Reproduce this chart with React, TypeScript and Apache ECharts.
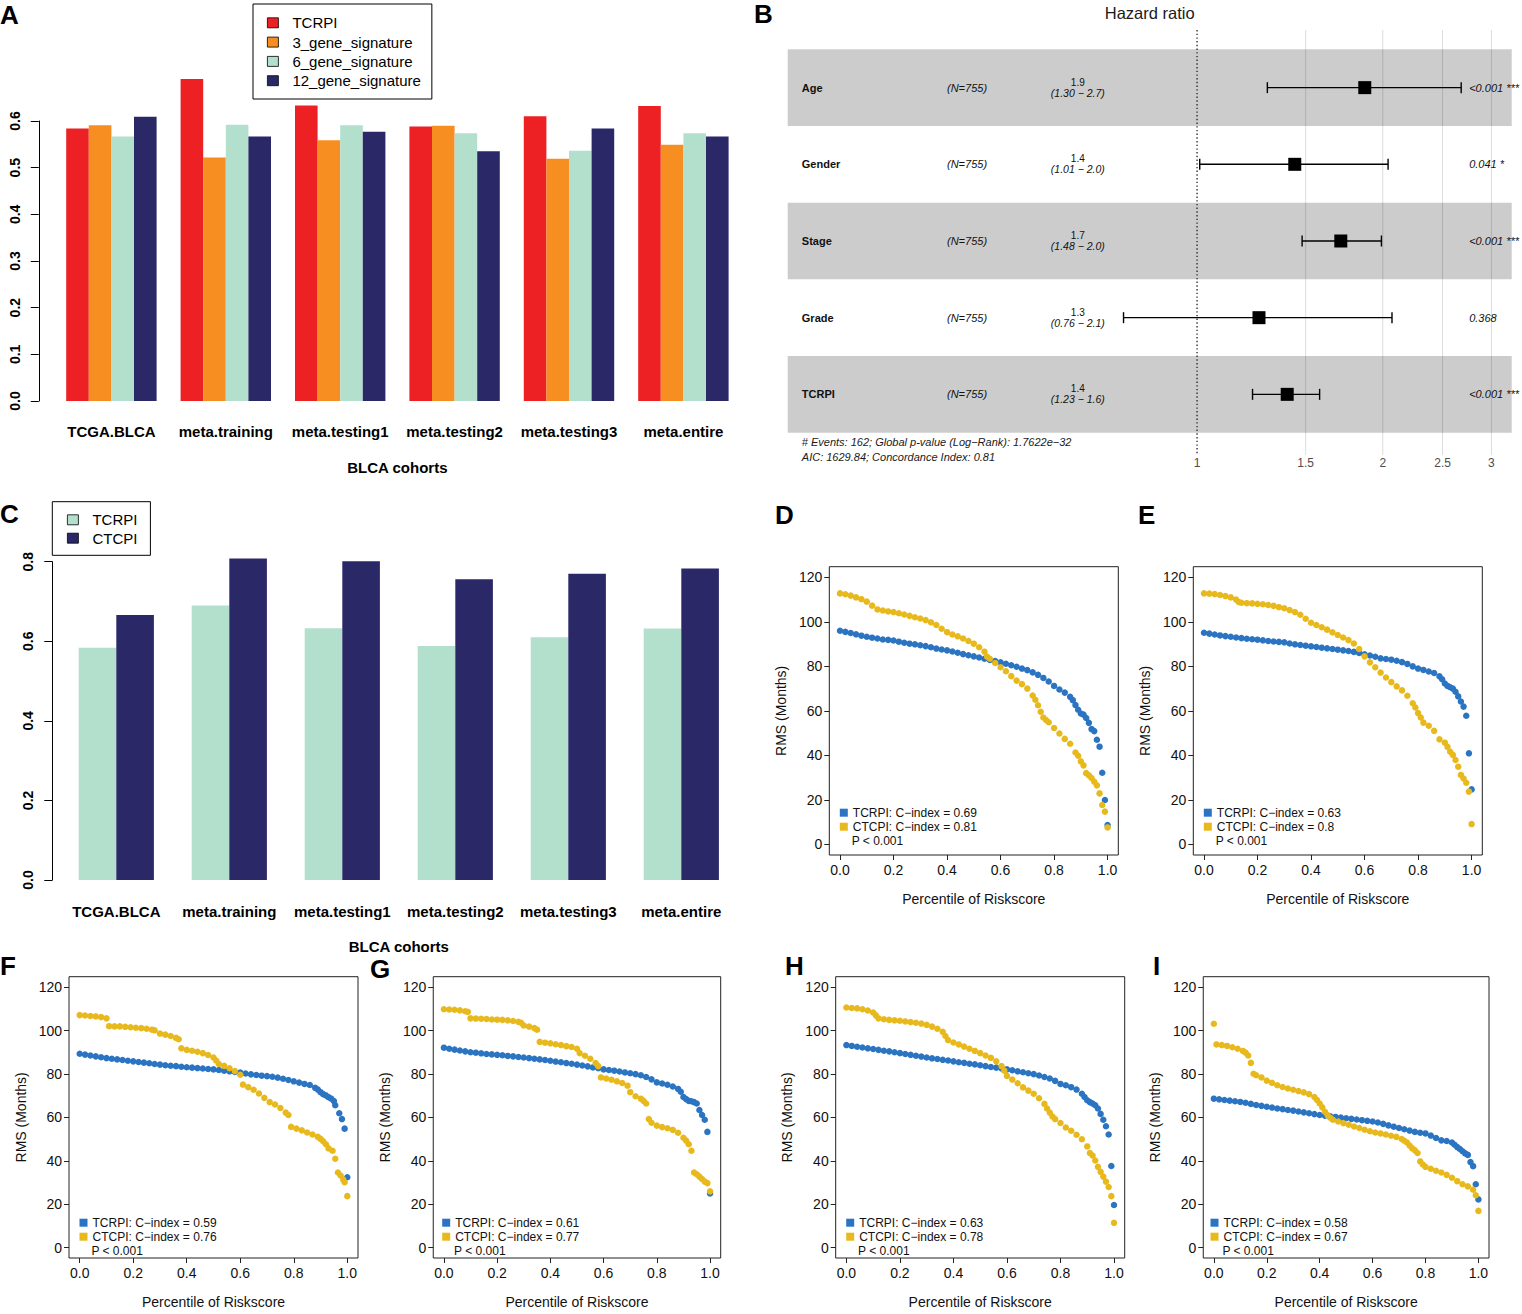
import React, { useEffect, useRef } from "react";
import * as echarts from "echarts";

const FONT = "'Liberation Sans', Arial, Helvetica, sans-serif";

// ---------------- Panels A & C: C-index per cohort ----------------
const cohorts = ["TCGA.BLCA", "meta.training", "meta.testing1", "meta.testing2", "meta.testing3", "meta.entire"];
const tcrpiCindex = [0.584, 0.69, 0.633, 0.588, 0.61, 0.632];
const gene3Cindex = [0.591, 0.522, 0.559, 0.59, 0.519, 0.549];
const gene6Cindex = [0.567, 0.592, 0.591, 0.574, 0.536, 0.574];
const gene12Cindex = [0.609, 0.567, 0.577, 0.535, 0.584, 0.567];
const ctcpiCindex = [0.666, 0.808, 0.801, 0.756, 0.77, 0.783];
const signatureNames = ["TCRPI", "3_gene_signature", "6_gene_signature", "12_gene_signature"];

// ---------------- Panel B: multivariate Cox (forest) ----------------
const forestVars = ["Age", "Gender", "Stage", "Grade", "TCRPI"];
const forestN = [755, 755, 755, 755, 755];
const forestHR = [1.87, 1.44, 1.71, 1.26, 1.4];
const forestLow = [1.3, 1.01, 1.48, 0.76, 1.23];
const forestHigh = [2.68, 2.04, 1.99, 2.07, 1.58];
const forestP = ["<0.001 ***", "0.041 *", "<0.001 ***", "0.368", "<0.001 ***"];
const hrTicks = [1, 1.5, 2, 2.5, 3];
const refHR = 1;
const hrRange = [0.217, 3.236];
const forestFooter = [
  "# Events: 162; Global p-value (Log\u2212Rank): 1.7622e\u221232",
  "AIC: 1629.84; Concordance Index: 0.81",
];

// ---------------- Panels D-I: RMS vs percentile of riskscore ----------------
const rmsTrainingTCRPI = [[0,96.0],[0.02,95.5],[0.04,95.0],[0.06,94.4],[0.08,93.8],[0.10,93.3],[0.12,92.9],[0.14,92.5],[0.16,92.1],[0.18,91.9],[0.20,91.6],[0.22,91.1],[0.24,90.6],[0.26,90.2],[0.28,89.9],[0.30,89.5],[0.32,89.1],[0.34,88.6],[0.36,88.0],[0.38,87.6],[0.40,87.2],[0.42,86.7],[0.44,86.1],[0.46,85.5],[0.48,85.0],[0.50,84.5],[0.52,84.0],[0.54,83.4],[0.56,82.9],[0.58,82.4],[0.60,81.8],[0.62,81.2],[0.64,80.5],[0.66,79.8],[0.68,79.0],[0.70,78.3],[0.72,77.3],[0.74,76.2],[0.76,74.8],[0.78,73.2],[0.80,71.2],[0.82,69.6],[0.84,68.2],[0.86,66.3],[0.87,64.8],[0.88,62.6],[0.89,60.5],[0.90,58.8],[0.91,58.3],[0.92,56.8],[0.93,54.6],[0.94,51.8],[0.95,50.9],[0.96,47.0],[0.97,43.9],[0.98,32.2],[0.99,19.9],[1.0,8.7]];
const rmsTrainingCTCPI = [[0,112.8],[0.02,112.4],[0.04,111.8],[0.06,111.0],[0.08,110.2],[0.10,109.1],[0.12,107.3],[0.14,105.6],[0.16,105.1],[0.18,104.7],[0.20,104.4],[0.22,103.9],[0.24,103.3],[0.26,102.7],[0.28,102.1],[0.30,101.5],[0.32,100.8],[0.34,99.8],[0.36,98.6],[0.38,96.9],[0.40,95.4],[0.42,94.3],[0.44,93.5],[0.46,92.5],[0.48,91.4],[0.50,90.2],[0.52,88.6],[0.54,86.6],[0.55,84.3],[0.56,83.4],[0.58,81.5],[0.60,79.6],[0.62,77.8],[0.64,75.6],[0.66,73.6],[0.68,72.0],[0.70,70.0],[0.72,66.9],[0.73,65.0],[0.74,62.5],[0.75,59.6],[0.76,57.0],[0.77,55.9],[0.78,54.9],[0.80,52.3],[0.82,49.8],[0.84,47.4],[0.86,45.2],[0.88,41.3],[0.89,39.8],[0.90,37.3],[0.91,35.5],[0.92,32.0],[0.93,31.0],[0.94,29.8],[0.95,28.2],[0.96,26.5],[0.97,22.9],[0.98,17.7],[0.99,14.7],[1.0,7.6]];

const rmsTesting1TCRPI = [[0,95.1],[0.02,94.7],[0.04,94.3],[0.06,93.9],[0.08,93.6],[0.10,93.3],[0.12,93.0],[0.14,92.7],[0.16,92.4],[0.18,92.2],[0.20,92.0],[0.22,91.7],[0.24,91.4],[0.26,91.2],[0.28,91.0],[0.30,90.8],[0.32,90.3],[0.34,89.9],[0.36,89.6],[0.38,89.3],[0.40,89.0],[0.42,88.7],[0.44,88.4],[0.46,88.1],[0.48,87.8],[0.50,87.5],[0.52,87.2],[0.54,86.9],[0.56,86.5],[0.58,86.0],[0.60,85.4],[0.62,84.9],[0.64,84.3],[0.66,83.6],[0.68,83.3],[0.70,83.0],[0.72,82.5],[0.74,81.9],[0.76,81.1],[0.78,80.0],[0.80,79.0],[0.82,78.4],[0.84,77.7],[0.86,77.0],[0.88,75.5],[0.89,74.2],[0.90,72.3],[0.91,71.2],[0.92,70.6],[0.93,70.0],[0.94,68.6],[0.95,66.5],[0.96,64.2],[0.97,61.9],[0.98,57.8],[0.99,40.9],[1.0,24.7]];
const rmsTesting1CTCPI = [[0,112.8],[0.02,112.7],[0.04,112.5],[0.06,112.1],[0.08,111.6],[0.10,111.0],[0.12,110.0],[0.13,108.9],[0.14,108.6],[0.16,108.4],[0.18,108.3],[0.20,108.1],[0.22,107.9],[0.24,107.6],[0.26,107.2],[0.28,106.6],[0.30,106.1],[0.32,105.3],[0.34,104.4],[0.36,103.2],[0.38,101.4],[0.40,99.6],[0.42,98.6],[0.44,97.6],[0.46,96.5],[0.48,95.3],[0.50,94.1],[0.52,93.0],[0.54,91.8],[0.56,90.3],[0.58,87.8],[0.60,84.5],[0.62,81.8],[0.64,79.6],[0.66,77.2],[0.68,75.0],[0.70,72.9],[0.72,71.0],[0.74,69.2],[0.76,66.8],[0.78,63.4],[0.79,61.5],[0.80,59.0],[0.81,57.0],[0.82,54.7],[0.84,53.3],[0.86,51.0],[0.88,47.2],[0.90,45.7],[0.91,43.8],[0.92,41.6],[0.93,40.2],[0.94,37.9],[0.95,34.9],[0.96,31.2],[0.97,29.6],[0.98,27.7],[0.99,23.7],[1.0,9.1]];

const rmsTesting2TCRPI = [[0,89.3],[0.02,88.9],[0.04,88.5],[0.06,88.1],[0.08,87.7],[0.10,87.3],[0.12,87.0],[0.14,86.7],[0.16,86.4],[0.18,86.1],[0.20,85.8],[0.22,85.5],[0.24,85.2],[0.26,84.9],[0.28,84.6],[0.30,84.3],[0.32,84.0],[0.34,83.8],[0.36,83.6],[0.38,83.3],[0.40,83.1],[0.42,82.9],[0.44,82.7],[0.46,82.5],[0.48,82.3],[0.50,82.1],[0.52,81.8],[0.54,81.5],[0.56,81.2],[0.58,80.9],[0.60,80.6],[0.62,80.2],[0.64,79.8],[0.66,79.5],[0.68,79.2],[0.70,79.0],[0.72,78.7],[0.74,78.3],[0.76,77.8],[0.78,77.2],[0.80,76.6],[0.82,76.0],[0.84,75.4],[0.86,74.9],[0.88,73.6],[0.89,72.8],[0.90,71.6],[0.91,70.7],[0.92,70.1],[0.93,69.3],[0.94,68.6],[0.95,67.5],[0.955,65.6],[0.97,61.9],[0.98,59.2],[0.99,54.8],[1.0,32.4]];
const rmsTesting2CTCPI = [[0,107.1],[0.02,106.9],[0.04,106.7],[0.06,106.5],[0.08,106.2],[0.10,105.6],[0.11,102.0],[0.13,101.9],[0.15,101.9],[0.17,101.7],[0.19,101.5],[0.21,101.3],[0.23,101.1],[0.25,100.8],[0.27,100.4],[0.28,100.1],[0.30,98.6],[0.32,98.1],[0.34,97.5],[0.36,96.6],[0.37,96.0],[0.38,91.8],[0.40,91.1],[0.42,90.7],[0.44,90.2],[0.46,89.6],[0.48,88.7],[0.50,87.6],[0.51,86.2],[0.52,84.6],[0.54,83.7],[0.56,82.6],[0.58,81.3],[0.60,79.6],[0.61,75.1],[0.63,73.9],[0.65,72.7],[0.67,71.0],[0.69,69.0],[0.71,67.0],[0.73,65.9],[0.75,64.3],[0.77,62.2],[0.78,61.1],[0.79,55.6],[0.81,54.8],[0.83,54.0],[0.85,53.0],[0.87,52.1],[0.89,51.0],[0.90,50.1],[0.91,49.0],[0.92,47.6],[0.93,45.7],[0.945,44.6],[0.955,40.9],[0.965,34.6],[0.975,33.2],[0.985,31.3],[0.99,30.1],[1.0,23.7]];

const rmsTesting3TCRPI = [[0,92.1],[0.02,91.6],[0.04,91.2],[0.06,90.8],[0.08,90.4],[0.10,90.0],[0.12,89.8],[0.14,89.5],[0.16,89.2],[0.18,89.0],[0.20,88.8],[0.22,88.6],[0.24,88.3],[0.26,88.1],[0.28,87.8],[0.30,87.6],[0.32,87.3],[0.34,87.0],[0.36,86.7],[0.38,86.4],[0.40,86.1],[0.42,85.7],[0.44,85.4],[0.46,85.0],[0.48,84.7],[0.50,84.3],[0.52,83.9],[0.54,83.5],[0.56,83.0],[0.58,82.6],[0.60,82.1],[0.62,81.8],[0.64,81.5],[0.66,81.1],[0.68,80.7],[0.70,80.3],[0.72,79.9],[0.74,79.4],[0.76,78.6],[0.78,77.5],[0.80,76.1],[0.82,75.6],[0.84,75.0],[0.86,74.2],[0.88,73.1],[0.89,71.8],[0.90,69.4],[0.91,68.4],[0.92,67.6],[0.93,67.4],[0.94,67.0],[0.95,66.4],[0.96,63.4],[0.97,61.1],[0.98,58.9],[0.99,53.3],[1.0,24.9]];
const rmsTesting3CTCPI = [[0,109.8],[0.02,109.7],[0.04,109.6],[0.06,109.3],[0.08,108.9],[0.09,108.6],[0.10,105.6],[0.12,105.5],[0.14,105.4],[0.16,105.3],[0.18,105.1],[0.20,105.0],[0.22,104.9],[0.24,104.7],[0.26,104.4],[0.28,104.0],[0.29,103.6],[0.30,102.3],[0.32,101.8],[0.34,101.1],[0.35,100.4],[0.36,94.8],[0.38,94.4],[0.40,94.1],[0.42,93.7],[0.44,93.3],[0.46,92.8],[0.48,92.4],[0.50,91.6],[0.51,89.6],[0.53,88.4],[0.55,87.0],[0.57,85.0],[0.58,83.6],[0.59,78.4],[0.61,77.9],[0.63,77.3],[0.65,76.6],[0.67,75.8],[0.69,74.6],[0.70,71.6],[0.72,69.7],[0.74,68.6],[0.75,67.6],[0.76,66.4],[0.77,59.2],[0.78,57.5],[0.80,56.2],[0.82,55.5],[0.84,55.0],[0.86,54.2],[0.88,52.9],[0.90,50.6],[0.91,49.3],[0.92,47.6],[0.93,44.6],[0.94,34.6],[0.95,33.8],[0.96,32.7],[0.97,31.6],[0.98,30.4],[0.99,29.7],[1.0,25.9]];

const rmsEntireTCRPI = [[0,93.3],[0.02,92.9],[0.04,92.5],[0.06,92.2],[0.08,91.8],[0.10,91.5],[0.12,91.1],[0.14,90.7],[0.16,90.4],[0.18,90.0],[0.20,89.6],[0.22,89.2],[0.24,88.8],[0.26,88.4],[0.28,88.0],[0.30,87.6],[0.32,87.2],[0.34,86.9],[0.36,86.5],[0.38,86.2],[0.40,85.8],[0.42,85.4],[0.44,85.1],[0.46,84.7],[0.48,84.4],[0.50,84.0],[0.52,83.6],[0.54,83.2],[0.56,82.9],[0.58,82.5],[0.60,82.1],[0.62,81.7],[0.64,81.2],[0.66,80.8],[0.68,80.3],[0.70,79.9],[0.72,79.3],[0.74,78.6],[0.76,77.9],[0.78,76.8],[0.80,75.4],[0.82,74.8],[0.84,73.9],[0.86,72.8],[0.88,70.9],[0.89,69.4],[0.90,67.9],[0.91,67.0],[0.92,66.4],[0.93,65.6],[0.94,64.1],[0.95,61.6],[0.96,58.9],[0.97,55.9],[0.98,52.1],[0.99,37.6],[1.0,19.6]];
const rmsEntireCTCPI = [[0,110.6],[0.02,110.4],[0.04,110.2],[0.06,109.8],[0.08,109.2],[0.10,108.3],[0.11,107.0],[0.12,105.6],[0.14,105.2],[0.16,104.9],[0.18,104.7],[0.20,104.5],[0.22,104.2],[0.24,103.9],[0.26,103.6],[0.28,103.2],[0.30,102.6],[0.32,101.8],[0.34,100.8],[0.36,99.4],[0.37,97.5],[0.38,95.6],[0.40,94.5],[0.42,93.6],[0.44,92.6],[0.46,91.6],[0.48,90.6],[0.50,89.6],[0.52,88.5],[0.54,87.4],[0.56,85.8],[0.58,83.6],[0.59,81.5],[0.60,79.1],[0.62,77.4],[0.64,75.7],[0.66,73.8],[0.68,72.3],[0.70,70.9],[0.72,68.8],[0.74,66.2],[0.75,64.1],[0.76,62.2],[0.77,60.4],[0.78,59.2],[0.80,57.4],[0.82,55.3],[0.84,53.8],[0.86,52.0],[0.88,49.9],[0.90,46.6],[0.91,43.6],[0.92,42.4],[0.93,40.1],[0.94,37.2],[0.95,34.9],[0.96,32.7],[0.97,30.4],[0.98,27.9],[0.99,23.7],[1.0,11.4]];

const rmsTcgaTCRPI = [[0,68.6],[0.02,68.3],[0.04,68.0],[0.06,67.7],[0.08,67.4],[0.10,67.1],[0.12,66.7],[0.14,66.2],[0.16,65.7],[0.18,65.3],[0.20,64.9],[0.22,64.5],[0.24,64.1],[0.26,63.8],[0.28,63.4],[0.30,63.1],[0.32,62.7],[0.34,62.3],[0.36,61.9],[0.38,61.5],[0.40,61.1],[0.42,60.8],[0.44,60.5],[0.46,60.2],[0.48,59.9],[0.50,59.6],[0.52,59.3],[0.54,59.0],[0.56,58.7],[0.58,58.4],[0.60,58.1],[0.62,57.6],[0.64,57.0],[0.66,56.3],[0.68,55.7],[0.70,55.1],[0.72,54.5],[0.74,53.9],[0.76,53.3],[0.78,52.9],[0.80,52.6],[0.82,51.6],[0.84,50.5],[0.86,49.4],[0.88,49.1],[0.90,48.4],[0.91,47.4],[0.92,46.3],[0.93,45.4],[0.94,44.4],[0.95,43.4],[0.96,42.7],[0.97,39.4],[0.98,37.5],[0.99,29.2],[1.0,22.2]];
const rmsTcgaCTCPI = [[0,103.1],[0.01,93.6],[0.03,93.3],[0.05,92.9],[0.07,92.3],[0.09,91.6],[0.11,90.6],[0.12,89.8],[0.13,88.5],[0.14,85.1],[0.15,80.1],[0.16,79.4],[0.18,78.4],[0.20,76.9],[0.22,75.9],[0.24,74.8],[0.26,74.0],[0.28,73.3],[0.30,72.7],[0.32,72.1],[0.34,71.5],[0.36,70.7],[0.38,69.4],[0.39,68.0],[0.40,66.4],[0.41,64.6],[0.42,62.6],[0.43,61.0],[0.44,59.8],[0.45,58.9],[0.47,58.1],[0.49,57.3],[0.51,56.6],[0.53,55.8],[0.55,55.1],[0.57,54.3],[0.59,53.6],[0.61,53.0],[0.63,52.6],[0.65,52.1],[0.67,51.5],[0.69,51.0],[0.71,50.0],[0.72,49.2],[0.73,48.4],[0.74,47.0],[0.75,45.7],[0.76,44.8],[0.77,43.6],[0.78,39.7],[0.79,38.3],[0.80,37.2],[0.82,36.3],[0.84,35.4],[0.86,34.6],[0.88,33.5],[0.90,32.2],[0.92,30.6],[0.94,29.2],[0.96,28.2],[0.98,26.7],[0.99,24.1],[1.0,16.9]];

const pctTicks = [0, 0.2, 0.4, 0.6, 0.8, 1.0];
const rmsTicks = [0, 20, 40, 60, 80, 100, 120];
const rmsPLabel = "P < 0.001";

// ---------------- styling ----------------
const BAR_COLORS = ["#ed2024", "#f68e21", "#b3dfcd", "#2b2868"];
const BLUE = "#2a74c2";
const YELLOW = "#e8b91d";

const fmtC = (v: number) => String(Math.round(v * 100) / 100);

function panelLetter(t: string, x: number, y: number) {
  return {
    type: "text",
    x,
    y,
    style: {
      text: t,
      fill: "#000",
      font: `bold 26px ${FONT}`,
      align: "left",
      verticalAlign: "middle",
      textAlign: "left",
      textVerticalAlign: "middle",
    },
  };
}

function plainText(t: string, x: number, y: number, font: string, fill = "#000", align = "left") {
  return {
    type: "text",
    x,
    y,
    style: { text: t, fill, font, align, verticalAlign: "middle", textAlign: align, textVerticalAlign: "middle" },
  };
}

// ---------------- Panel A ----------------
const optionA = {
  animation: false,
  textStyle: { fontFamily: FONT },
  grid: { left: 54.2, top: 121, width: 686.4, height: 280 },
  xAxis: {
    type: "category",
    data: cohorts,
    axisLine: { show: false },
    axisTick: { show: false },
    axisLabel: { interval: 0, fontSize: 15, fontWeight: "bold", color: "#000", margin: 23, fontFamily: FONT },
    name: "BLCA cohorts",
    nameLocation: "middle",
    nameGap: 59,
    nameTextStyle: { fontSize: 15, fontWeight: "bold", color: "#000", fontFamily: FONT },
  },
  yAxis: {
    type: "value",
    min: 0,
    max: 0.6,
    interval: 0.1,
    offset: 15.4,
    axisLine: { show: true, lineStyle: { color: "#000", width: 1 } },
    axisTick: { show: true, length: 8, lineStyle: { color: "#000" } },
    axisLabel: { rotate: 90, fontSize: 14, fontWeight: "bold", color: "#000", margin: 17, formatter: (v: number) => v.toFixed(1) },
    splitLine: { show: false },
  },
  legend: {
    orient: "vertical",
    left: 253,
    top: 4,
    padding: [11.3, 11, 10.8, 14],
    borderColor: "#000",
    borderWidth: 1,
    itemWidth: 11,
    itemHeight: 10,
    itemGap: 4.3,
    icon: "rect",
    selectedMode: false,
    itemStyle: { borderColor: "#000", borderWidth: 0.8 },
    textStyle: { fontSize: 15, lineHeight: 14, color: "#000", fontFamily: FONT, padding: [0, 0, 0, 9] },
    data: signatureNames,
  },
  graphic: [panelLetter("A", 0, 14.5)],
  series: [tcrpiCindex, gene3Cindex, gene6Cindex, gene12Cindex].map((d, i) => ({
    type: "bar",
    name: signatureNames[i],
    data: d,
    barWidth: 22.6,
    barGap: "0%",
    clip: false,
    itemStyle: { color: BAR_COLORS[i] },
  })),
};

// ---------------- Panel C ----------------
const optionC = {
  animation: false,
  textStyle: { fontFamily: FONT },
  grid: { left: 59.8, top: 71.7, width: 678, height: 318.3 },
  xAxis: {
    type: "category",
    data: cohorts,
    axisLine: { show: false },
    axisTick: { show: false },
    axisLabel: { interval: 0, fontSize: 15, fontWeight: "bold", color: "#000", margin: 24, fontFamily: FONT },
    name: "BLCA cohorts",
    nameLocation: "middle",
    nameGap: 59,
    nameTextStyle: { fontSize: 15, fontWeight: "bold", color: "#000", fontFamily: FONT },
  },
  yAxis: {
    type: "value",
    min: 0,
    max: 0.8,
    interval: 0.2,
    offset: 7.5,
    axisLine: { show: true, lineStyle: { color: "#000", width: 1 } },
    axisTick: { show: true, length: 8, lineStyle: { color: "#000" } },
    axisLabel: { rotate: 90, fontSize: 14, fontWeight: "bold", color: "#000", margin: 17, formatter: (v: number) => v.toFixed(1) },
    splitLine: { show: false },
  },
  legend: {
    orient: "vertical",
    left: 52.3,
    top: 11.7,
    padding: [10.6, 13, 9.6, 14.7],
    borderColor: "#000",
    borderWidth: 1,
    itemWidth: 11,
    itemHeight: 10,
    itemGap: 3.4,
    icon: "rect",
    selectedMode: false,
    itemStyle: { borderColor: "#000", borderWidth: 0.8 },
    textStyle: { fontSize: 15, lineHeight: 14, color: "#000", fontFamily: FONT, padding: [0, 0, 0, 9] },
    data: ["TCRPI", "CTCPI"],
  },
  graphic: [panelLetter("C", 0, 23.5)],
  series: [
    { type: "bar", name: "TCRPI", data: tcrpiCindex, barWidth: 37.6, barGap: "0%", clip: false, itemStyle: { color: BAR_COLORS[2] } },
    { type: "bar", name: "CTCPI", data: ctcpiCindex, barWidth: 37.6, barGap: "0%", clip: false, itemStyle: { color: BAR_COLORS[3] } },
  ],
};

// ---------------- Panel B (forest) ----------------
const forestOption = {
  animation: false,
  textStyle: { fontFamily: FONT },
  grid: { left: 37.7, top: 30, width: 724, height: 425 },
  xAxis: { type: "value", min: Math.log(hrRange[0]), max: Math.log(hrRange[1]), show: false },
  yAxis: { type: "value", inverse: true, min: -0.2517, max: 5.291, show: false },
  graphic: [
    panelLetter("B", 4, 13.5),
    plainText("Hazard ratio", 399.7, 12.7, `16.5px ${FONT}`, "#1a1a1a", "center"),
    plainText(forestFooter[0], 51.8, 442, `italic 11px ${FONT}`, "#1a1a1a"),
    plainText(forestFooter[1], 51.8, 456.7, `italic 11px ${FONT}`, "#1a1a1a"),
  ],
  series: [
    {
      type: "custom",
      name: "bands",
      z: 1,
      data: forestVars.map((_, i) => [0, i]),
      encode: { x: 0, y: 1 },
      renderItem: (params: any, api: any) => {
        const i = api.value(1);
        const cs = params.coordSys;
        if (i % 2 !== 0) return { type: "group", children: [] };
        const y0 = api.coord([0, i])[1];
        const y1 = api.coord([0, i + 1])[1];
        return { type: "rect", shape: { x: cs.x, y: y0, width: cs.width, height: y1 - y0 }, style: { fill: "#cccccc" } };
      },
    },
    {
      type: "custom",
      name: "hrTicks",
      z: 2,
      data: hrTicks.map((v) => [Math.log(v), 0]),
      encode: { x: 0, y: 1 },
      renderItem: (params: any, api: any) => {
        const v = hrTicks[params.dataIndex];
        const cs = params.coordSys;
        const x = api.coord([api.value(0), 0])[0];
        const isRef = v === refHR;
        return {
          type: "group",
          children: [
            {
              type: "line",
              shape: { x1: x, y1: cs.y, x2: x, y2: cs.y + cs.height },
              style: isRef
                ? { stroke: "#222", lineWidth: 1.3, lineDash: [1.4, 2.3] }
                : { stroke: "rgba(0,0,0,0.16)", lineWidth: 0.9 },
            },
            {
              type: "text",
              x,
              y: cs.y + cs.height + 8.3,
              style: {
                text: String(v),
                fill: "#4d4d4d",
                font: `12px ${FONT}`,
                align: "center",
                verticalAlign: "middle",
                textAlign: "center",
                textVerticalAlign: "middle",
              },
            },
          ],
        };
      },
    },
    {
      type: "custom",
      name: "forest",
      z: 3,
      data: forestVars.map((_, i) => [Math.log(forestHR[i]), i, Math.log(forestLow[i]), Math.log(forestHigh[i])]),
      encode: { x: [0, 2, 3], y: 1 },
      renderItem: (params: any, api: any) => {
        const i = params.dataIndex;
        const cs = params.coordSys;
        const yc = api.coord([0, i + 0.5])[1];
        const xc = api.coord([api.value(0), 0])[0];
        const xl = api.coord([api.value(2), 0])[0];
        const xh = api.coord([api.value(3), 0])[0];
        const t = (text: string, x: number, y: number, font: string, align = "left") => ({
          type: "text",
          x,
          y,
          style: { text, fill: "#111", font, align, verticalAlign: "middle", textAlign: align, textVerticalAlign: "middle" },
        });
        const ln = { stroke: "#000", lineWidth: 1.4 };
        return {
          type: "group",
          children: [
            { type: "line", shape: { x1: xl, y1: yc, x2: xh, y2: yc }, style: ln },
            { type: "line", shape: { x1: xl, y1: yc - 5.5, x2: xl, y2: yc + 5.5 }, style: ln },
            { type: "line", shape: { x1: xh, y1: yc - 5.5, x2: xh, y2: yc + 5.5 }, style: ln },
            { type: "rect", shape: { x: xc - 6.5, y: yc - 6.5, width: 13, height: 13 }, style: { fill: "#000" } },
            t(forestVars[i], cs.x + 14.1, yc, `bold 11px ${FONT}`),
            t(`(N=${forestN[i]})`, cs.x + 159.3, yc, `italic 11px ${FONT}`),
            t(forestHR[i].toFixed(1), cs.x + 290.1, yc - 5.6, `10px ${FONT}`, "center"),
            t(`(${forestLow[i].toFixed(2)} \u2212 ${forestHigh[i].toFixed(1)})`, cs.x + 290.1, yc + 5.0, `italic 10.5px ${FONT}`, "center"),
            t(forestP[i], cs.x + 681.5, yc, `italic 11px ${FONT}`),
          ],
        };
      },
    },
  ],
};

// ---------------- Panels D-I ----------------
type RmsPanel = {
  letter: string;
  cohort: number;
  tcrpi: number[][];
  ctcpi: number[][];
  left: number;
  top: number;
  w: number;
  h: number;
  gl: number;
  gt: number;
  lx: number;
  ly: number;
};

const rmsPanels: RmsPanel[] = [
  { letter: "D", cohort: 1, tcrpi: rmsTrainingTCRPI, ctcpi: rmsTrainingCTCPI, left: 760, top: 490, w: 380, h: 440, gl: 69.3, gt: 76.7, lx: 15, ly: 24.5 },
  { letter: "E", cohort: 2, tcrpi: rmsTesting1TCRPI, ctcpi: rmsTesting1CTCPI, left: 1130, top: 490, w: 392, h: 440, gl: 63.3, gt: 76.7, lx: 8, ly: 24.5 },
  { letter: "F", cohort: 3, tcrpi: rmsTesting2TCRPI, ctcpi: rmsTesting2CTCPI, left: 0, top: 940, w: 370, h: 374, gl: 69, gt: 36.7, lx: 0, ly: 25.5 },
  { letter: "G", cohort: 4, tcrpi: rmsTesting3TCRPI, ctcpi: rmsTesting3CTCPI, left: 370, top: 940, w: 400, h: 374, gl: 61.7, gt: 36.7, lx: 0, ly: 29 },
  { letter: "H", cohort: 5, tcrpi: rmsEntireTCRPI, ctcpi: rmsEntireCTCPI, left: 770, top: 940, w: 370, h: 374, gl: 65.7, gt: 36.7, lx: 15, ly: 25.5 },
  { letter: "I", cohort: 0, tcrpi: rmsTcgaTCRPI, ctcpi: rmsTcgaCTCPI, left: 1140, top: 940, w: 382, h: 374, gl: 60, gt: 36.7, lx: 13, ly: 25.5 },
];

function rmsOption(p: RmsPanel) {
  const cidx: Record<string, number> = { TCRPI: tcrpiCindex[p.cohort], CTCPI: ctcpiCindex[p.cohort] };
  return {
    animation: false,
    textStyle: { fontFamily: FONT },
    grid: { left: p.gl, top: p.gt, width: 289, height: 288.3, show: true, borderColor: "#222", borderWidth: 1, backgroundColor: "transparent" },
    xAxis: {
      type: "value",
      min: -0.04,
      max: 1.04,
      axisLine: { show: false, onZero: false },
      splitLine: { show: false },
      axisTick: { show: true, inside: false, length: 5, customValues: pctTicks, lineStyle: { color: "#222" } },
      axisLabel: { customValues: pctTicks, formatter: (v: number) => v.toFixed(1), fontSize: 14, color: "#111", margin: 8 },
      name: "Percentile of Riskscore",
      nameLocation: "middle",
      nameGap: 37,
      nameTextStyle: { fontSize: 14, color: "#111", fontFamily: FONT },
    },
    yAxis: {
      type: "value",
      min: -4.8,
      max: 124.8,
      axisLine: { show: false, onZero: false },
      splitLine: { show: false },
      axisTick: { show: true, inside: false, length: 5, customValues: rmsTicks, lineStyle: { color: "#222" } },
      axisLabel: { customValues: rmsTicks, fontSize: 14, color: "#111", margin: 7 },
      name: "RMS (Months)",
      nameLocation: "middle",
      nameRotate: 90,
      nameGap: 35,
      nameTextStyle: { fontSize: 14, color: "#111", fontFamily: FONT },
    },
    legend: {
      orient: "vertical",
      left: p.gl + 10.5,
      top: p.gt + 239.5,
      padding: 0,
      itemWidth: 8,
      itemHeight: 8,
      itemGap: 1,
      icon: "rect",
      selectedMode: false,
      textStyle: { fontSize: 12, lineHeight: 13, color: "#111", fontFamily: FONT },
      formatter: (name: string) => `${name}: C\u2212index = ${fmtC(cidx[name])}`,
      data: ["TCRPI", "CTCPI"],
    },
    graphic: [
      panelLetter(p.letter, p.lx, p.ly),
      plainText(rmsPLabel, p.gl + 22.4, p.gt + 274.3, `12px ${FONT}`, "#111"),
    ],
    series: [
      { type: "scatter", name: "TCRPI", data: p.tcrpi, symbolSize: 6.5, clip: false, itemStyle: { color: BLUE, opacity: 1 } },
      { type: "scatter", name: "CTCPI", data: p.ctcpi, symbolSize: 6.5, clip: false, itemStyle: { color: YELLOW, opacity: 1 } },
    ],
  };
}

function EChart({ option, left, top, width, height }: { option: any; left: number; top: number; width: number; height: number }) {
  const ref = useRef<HTMLDivElement>(null);
  useEffect(() => {
    if (!ref.current) return;
    const chart = echarts.init(ref.current, undefined, { renderer: "svg" });
    chart.setOption(option);
    return () => chart.dispose();
  }, [option]);
  return <div ref={ref} style={{ position: "absolute", left, top, width, height }} />;
}

const rmsOptions = rmsPanels.map((p) => rmsOption(p));

export default function App() {
  return (
    <div style={{ position: "absolute", left: 0, top: 0, width: 1522, height: 1314, background: "#fff", overflow: "hidden" }}>
      <EChart option={optionA} left={0} top={0} width={760} height={490} />
      <EChart option={forestOption} left={750} top={0} width={772} height={490} />
      <EChart option={optionC} left={0} top={490} width={760} height={470} />
      {rmsPanels.map((p, i) => (
        <EChart key={p.letter} option={rmsOptions[i]} left={p.left} top={p.top} width={p.w} height={p.h} />
      ))}
    </div>
  );
}
